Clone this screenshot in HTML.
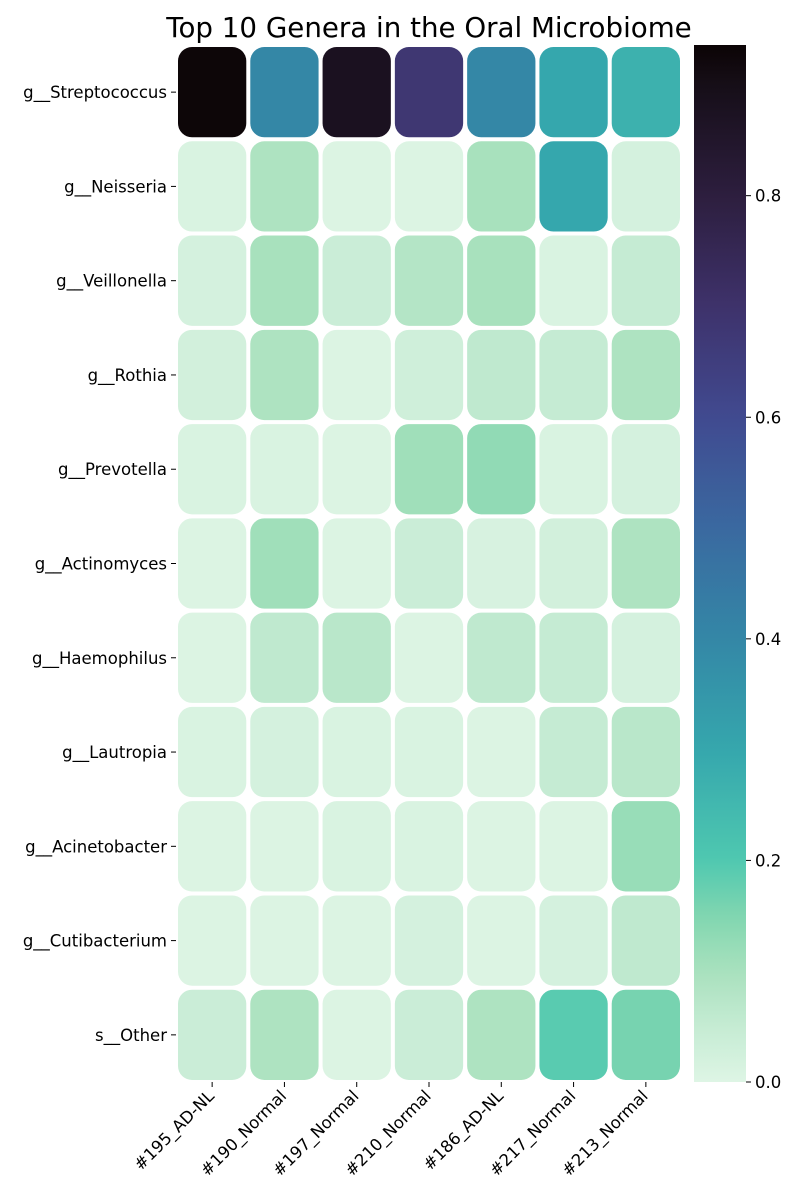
<!DOCTYPE html>
<html><head><meta charset="utf-8"><style>
body{margin:0;background:#fff;width:800px;height:1200px;overflow:hidden;font-family:"DejaVu Sans","Liberation Sans",sans-serif}
text{font-family:"DejaVu Sans","Liberation Sans",sans-serif}
</style></head><body>
<svg id="chart" width="800" height="1200" xmlns="http://www.w3.org/2000/svg">
<defs><linearGradient id="cbg" x1="0" y1="1" x2="0" y2="0"></linearGradient></defs>
<text x="429" y="37" font-size="27.7" text-anchor="middle" fill="#000">Top 10 Genera in the Oral Microbiome</text>
<g id="cells"></g><g id="yaxis"></g><g id="xaxis"></g><g id="cbar"></g>
</svg>
<script>
const genera=["g__Streptococcus","g__Neisseria","g__Veillonella","g__Rothia","g__Prevotella","g__Actinomyces","g__Haemophilus","g__Lautropia","g__Acinetobacter","g__Cutibacterium","s__Other"];
const samples=["#195_AD-NL","#190_Normal","#197_Normal","#210_Normal","#186_AD-NL","#217_Normal","#213_Normal"];
const values=[
[0.93,0.40,0.88,0.68,0.40,0.30,0.27],
[0.01,0.09,0.005,0.005,0.10,0.30,0.02],
[0.02,0.10,0.04,0.08,0.10,0.01,0.05],
[0.025,0.09,0.005,0.03,0.06,0.05,0.09],
[0.01,0.01,0.005,0.11,0.13,0.01,0.02],
[0.005,0.11,0.005,0.04,0.015,0.025,0.09],
[0.005,0.06,0.07,0.005,0.06,0.05,0.02],
[0.01,0.02,0.01,0.01,0.005,0.05,0.07],
[0.005,0.005,0.01,0.01,0.005,0.005,0.12],
[0.005,0.005,0.005,0.02,0.005,0.02,0.06],
[0.04,0.09,0.005,0.04,0.09,0.19,0.16]];
const cbTicks=[0.0,0.2,0.4,0.6,0.8];
const vmin=0,vmax=0.936;
const stops=[[0,"#def5e5"],[0.05,"#c5ebd3"],[0.1,"#a8e1bd"],[0.15,"#81d6b0"],[0.2,"#4fc8b0"],[0.3,"#35a7ad"],[0.4,"#3487a6"],[0.5,"#3a69a0"],[0.6,"#414a90"],[0.7,"#3e326b"],[0.8,"#2d1e3e"],[0.9,"#160e18"],[0.936,"#0b0405"]];
function hex(h){return [1,3,5].map(i=>parseInt(h.substr(i,2),16));}
function color(v){v=Math.max(vmin,Math.min(vmax,v));for(let i=1;i<stops.length;i++){if(v<=stops[i][0]){const t=(v-stops[i-1][0])/(stops[i][0]-stops[i-1][0]);const a=hex(stops[i-1][1]),b=hex(stops[i][1]);return "rgb("+a.map((x,k)=>Math.round(x+(b[k]-x)*t)).join(",")+")";}}return stops[stops.length-1][1];}
const NS="http://www.w3.org/2000/svg";
const X0=176,X1=682,Y0=45,Y1=1082;
const cw=(X1-X0)/samples.length,ch=(Y1-Y0)/genera.length;
const xs=j=>X0+j*cw, ys=i=>Y0+i*ch;
function el(t,a,p){const e=document.createElementNS(NS,t);for(const k in a)e.setAttribute(k,a[k]);p.appendChild(e);return e;}
const cells=document.getElementById('cells');
values.forEach((row,i)=>row.forEach((v,j)=>{
 const r=el('rect',{x:xs(j)+2,y:ys(i)+2,width:cw-4,height:ch-4,rx:14,fill:color(v)},cells);
 
 
}));
const ya=document.getElementById('yaxis');
genera.forEach((g,i)=>{
 const y=ys(i)+ch/2;
 el('line',{x1:X0-5,x2:X0,y1:y,y2:y,stroke:"#000"},ya);
 const t=el('text',{x:X0-9,y:y+6,'font-size':16.5,'text-anchor':'end'},ya);t.textContent=g;
 
 
});
const xa=document.getElementById('xaxis');
samples.forEach((s,j)=>{
 const x=xs(j)+cw/2;
 el('line',{x1:x,x2:x,y1:Y1,y2:Y1+5,stroke:"#000"},xa);
 const t=el('text',{x:x+3,y:Y1+15,'font-size':16.5,'text-anchor':'end',transform:`rotate(-45 ${x+3} ${Y1+15})`},xa);t.textContent=s;
 
 
});
const grad=document.getElementById('cbg');
for(let k=0;k<=60;k++){const v=vmax*k/60;el('stop',{offset:(k/60),'stop-color':color(v)},grad);}
const cb=document.getElementById('cbar');
const CX=694,CW=52;
const cy=v=>Y1-(v-vmin)/(vmax-vmin)*(Y1-Y0);
const cr=el('rect',{x:CX,y:Y0,width:CW,height:Y1-Y0,fill:"url(#cbg)"},cb);


cbTicks.forEach(v=>{
 const y=cy(v);
 el('line',{x1:CX+CW,x2:CX+CW+5,y1:y,y2:y,stroke:"#000"},cb);
 const t=el('text',{x:CX+CW+9,y:y+6,'font-size':16.5},cb);t.textContent=v.toFixed(1);
 
 
});
</script>
</body></html>
